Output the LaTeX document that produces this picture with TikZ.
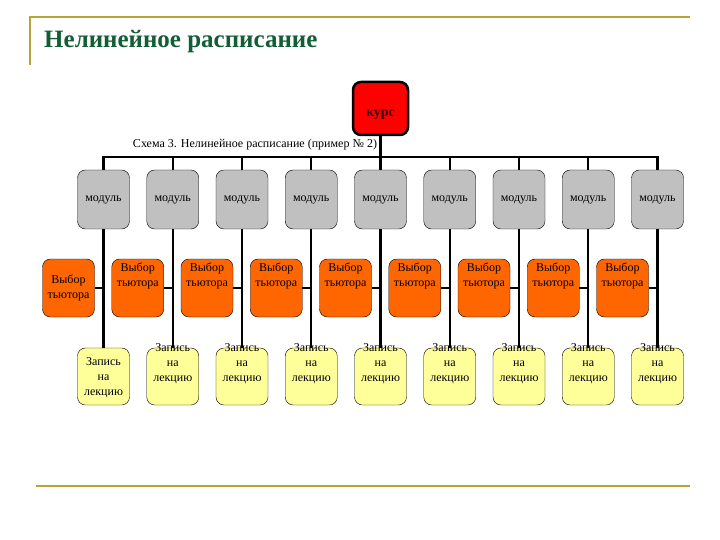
\documentclass[tikz,border=0pt]{standalone}
\usepackage{fontspec}
\setmainfont{Liberation Serif}
\usepackage{xcolor}
\usetikzlibrary{calc}
\definecolor{framegold}{HTML}{B8A23C}
\definecolor{titlegreen}{HTML}{135E36}
\definecolor{coursered}{HTML}{FF0000}
\definecolor{coursetext}{HTML}{3A0000}
\definecolor{modulegray}{HTML}{C0C0C0}
\definecolor{tutororange}{HTML}{FF6600}
\definecolor{lectureyellow}{HTML}{FFFF99}
\newcommand{\lifttext}[2]{\raisebox{#1}[0pt][0pt]{\begin{tabular}{@{}c@{}}#2\end{tabular}}}
\tikzset{
  frameline/.style={line width=2pt,framegold},
  link/.style={line width=2.4pt,black},
  titletext/.style={font=\fontsize{25}{29}\selectfont\bfseries,text=titlegreen,inner sep=0pt},
  captiontext/.style={font=\fontsize{12}{14}\selectfont,inner sep=0pt},
  coursenode/.style={draw=black,line width=2.5pt,fill=coursered,text=coursetext,rounded corners=2.8mm,minimum width=55pt,minimum height=53pt,inner sep=0pt,font=\fontsize{14}{16}\selectfont\bfseries},
  modulenode/.style={draw=black,fill=modulegray,rounded corners=2.8mm,minimum width=52pt,minimum height=59pt,inner sep=0pt,font=\fontsize{12}{15}\selectfont},
  tutornode/.style={draw=black,fill=tutororange,rounded corners=2.8mm,minimum width=52pt,minimum height=58pt,inner sep=0pt,font=\fontsize{12}{15}\selectfont},
  lecturenode/.style={draw=black,fill=lectureyellow,rounded corners=2.8mm,minimum width=52pt,minimum height=57pt,inner sep=0pt,font=\fontsize{12}{15}\selectfont}
}
\begin{document}
\begin{tikzpicture}[x=1pt,y=-1pt]
  \useasboundingbox[fill=white] (0,0) rectangle (720,540);
  \draw[frameline] (30,65) -- (30,17) -- (690,17);
  \draw[frameline] (36,486) -- (690,486);
  \node[titletext,anchor=west] (title) at (44,42) {Нелинейное расписание};
  \node[coursenode] (kurs) at (380.5,108.5) {\raisebox{-8pt}[0pt][0pt]{курс}};
  \node[captiontext] (caption) at (255,145) {Схема 3. Нелинейное расписание (пример № 2)};
  \foreach \i in {1,...,9}
    \node[modulenode] (mod\i) at ({103.5+69.25*(\i-1)},199.5) {модуль};
  \node[tutornode] (tut1) at (68.5,288) {\lifttext{-3pt}{Выбор\\тьютора}};
  \node[lecturenode] (zap1) at (103.5,376.5) {\lifttext{-4pt}{Запись\\на\\лекцию}};
  \foreach \i in {2,...,9}{
    \node[tutornode] (tut\i) at ({68.5+69.25*(\i-1)},288) {\lifttext{9pt}{Выбор\\тьютора}};
    \node[lecturenode] (zap\i) at ({103.5+69.25*(\i-1)},376.5) {\lifttext{10pt}{Запись\\на\\лекцию}};
  }
  \coordinate (bus) at ($(mod1.north)+(0,-13)$);
  \draw[link] (kurs.south) -- (kurs.south |- bus);
  \draw[link] (mod1.north) -- (mod1.north |- bus) -- (mod9.north |- bus) -- (mod9.north);
  \foreach \i in {1,...,9}{
    \draw[link] (mod\i.north) -- (mod\i.north |- bus);
    \draw[link] (mod\i.south) -- (zap\i.north);
    \draw[link] (tut\i.east) -- (tut\i.east -| mod\i.south);
  }
\end{tikzpicture}
\end{document}
